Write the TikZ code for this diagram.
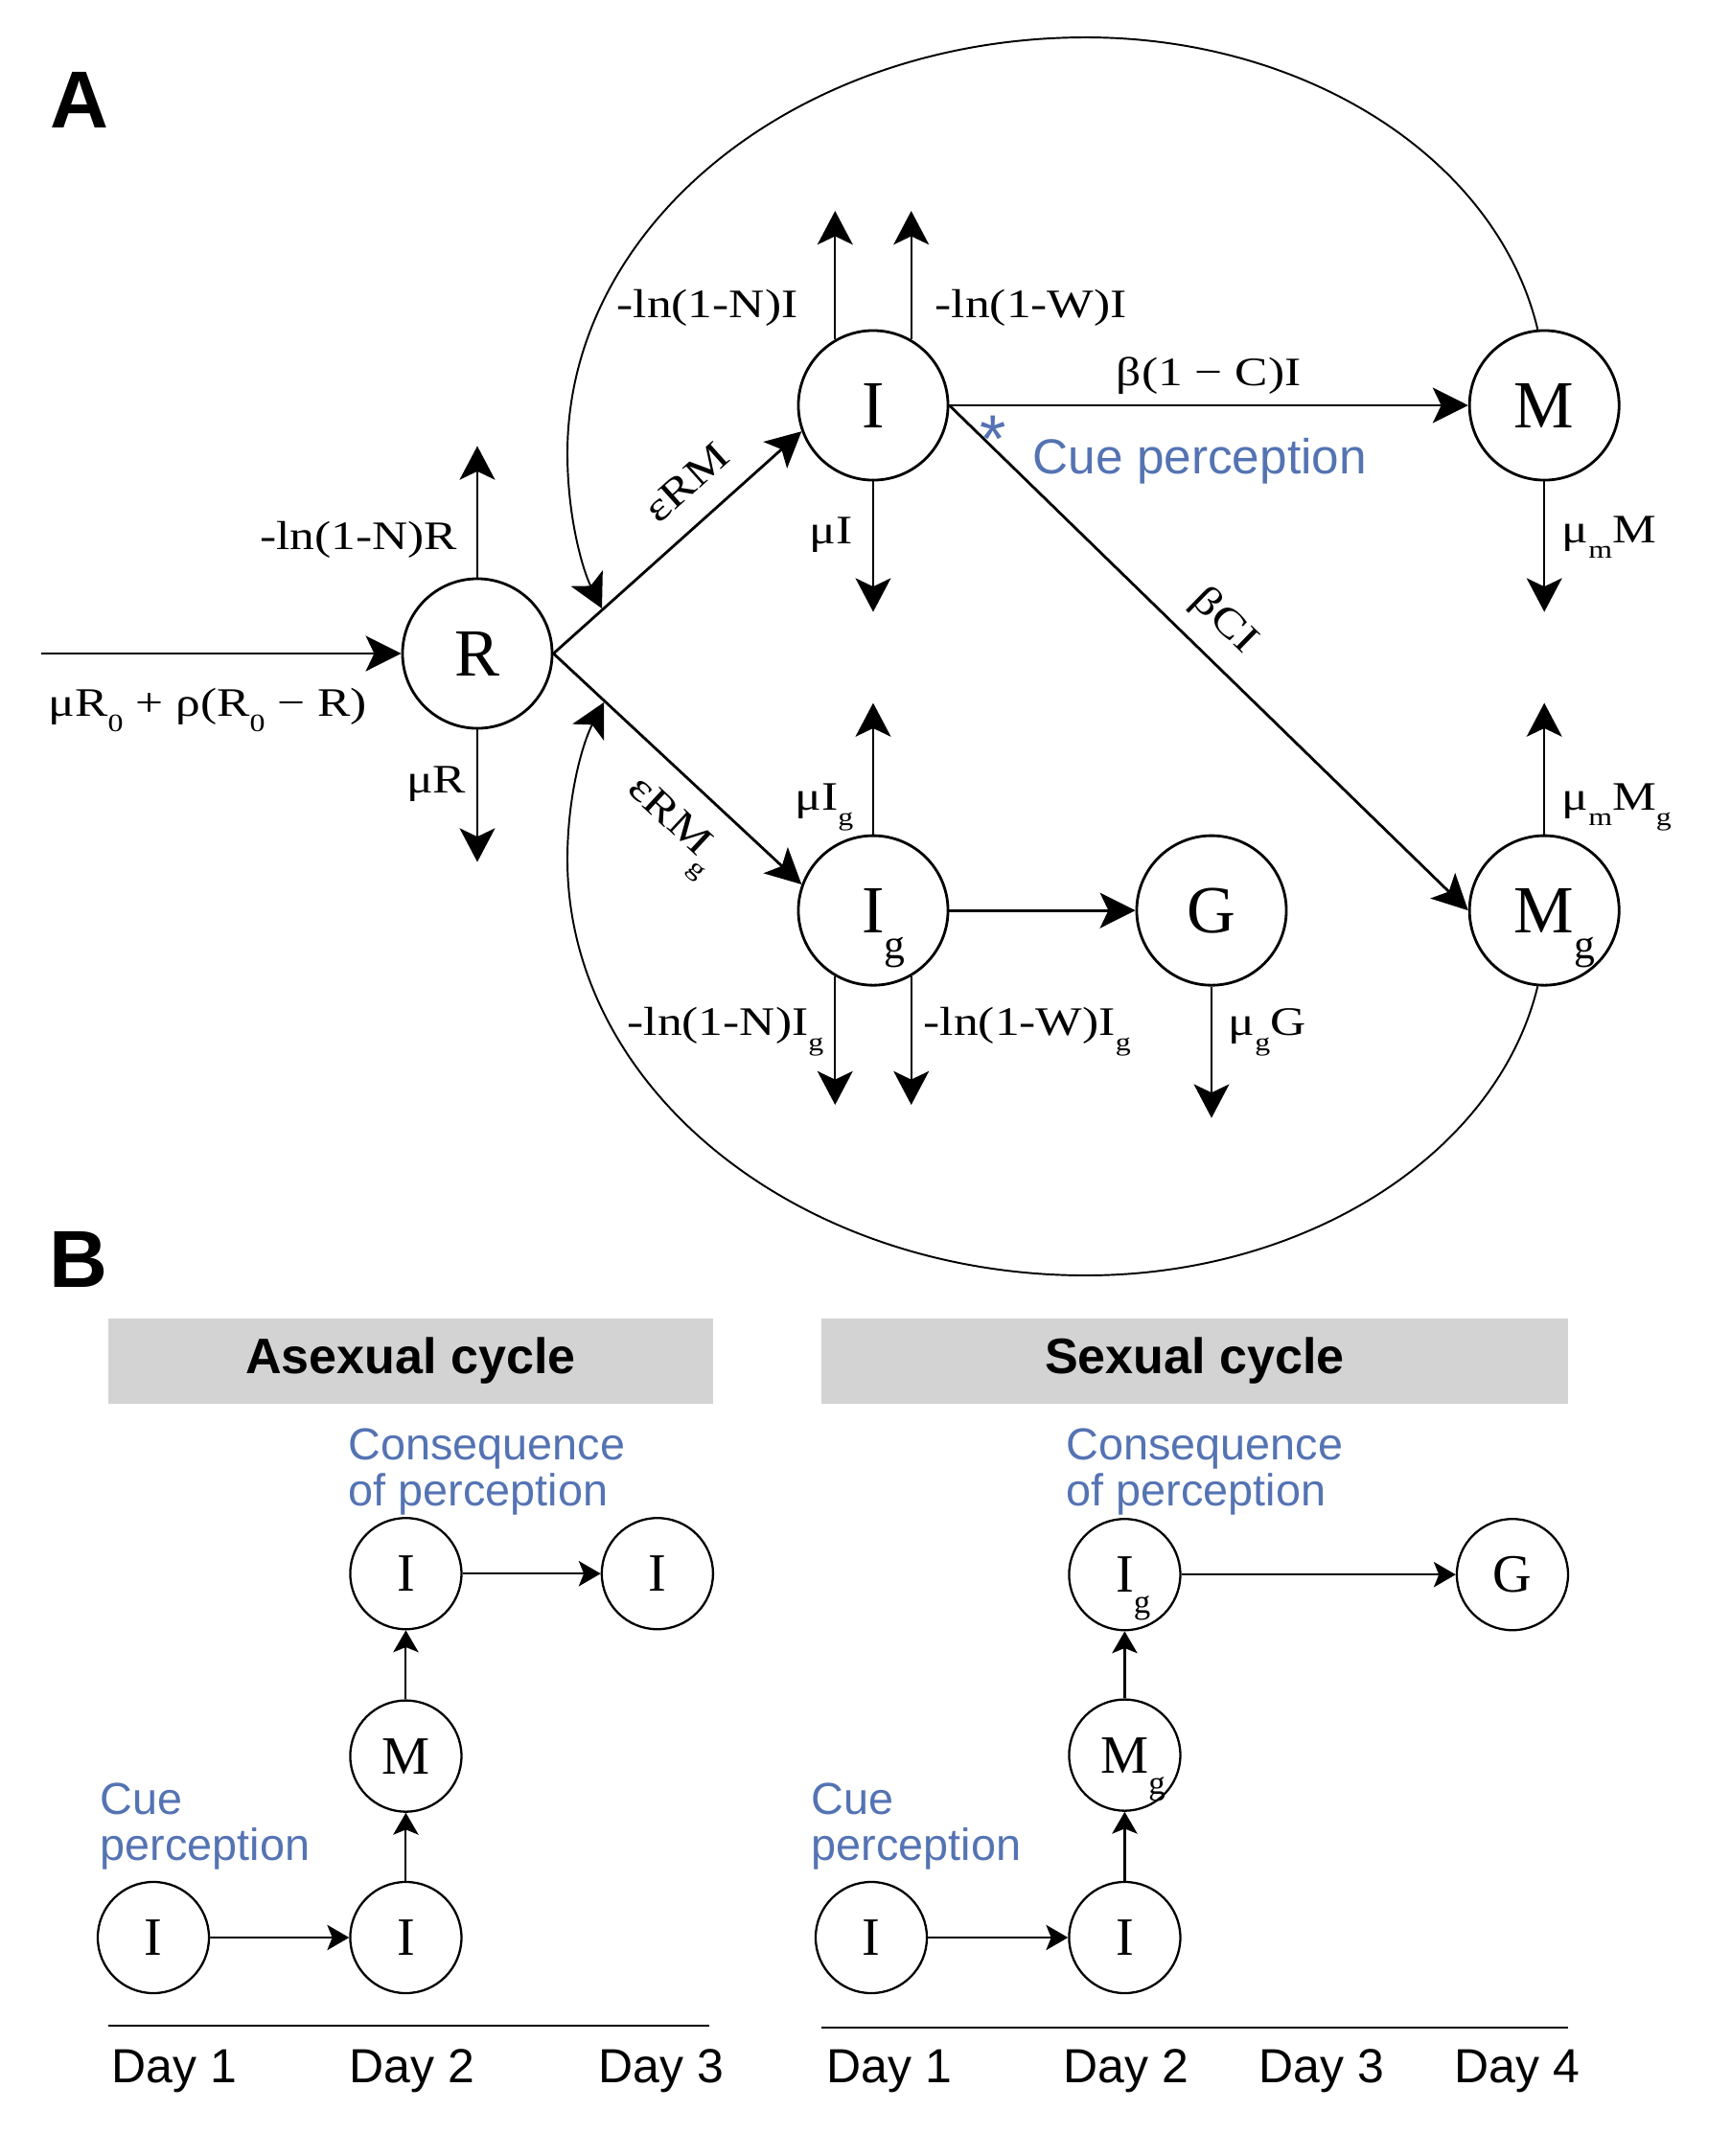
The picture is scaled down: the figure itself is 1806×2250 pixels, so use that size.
\documentclass[tikz,border=0pt]{standalone}
\usepackage{fontspec}
\setmainfont{Liberation Serif}
\setsansfont{Liberation Sans}
\newfontfamily\ratefont{Liberation Serif}[FakeStretch=1.22]
\usepackage{graphicx}
\definecolor{cueblue}{RGB}{84, 115, 179}
\definecolor{hdrgray}{RGB}{211, 211, 211}
\usepackage{tikz}
\usetikzlibrary{arrows.meta, positioning}
\newcommand{\lo}[1]{\smash{\raisebox{-0.85ex}{\scalebox{0.62}{#1}}}}
\tikzset{
  comp/.style={circle, draw, line width=0.8pt, minimum size=1.56cm, inner sep=0pt, font=\fontsize{20}{20}\selectfont},
  daycomp/.style={circle, draw, line width=0.65pt, minimum size=1.16cm, inner sep=0pt, font=\fontsize{16}{16}\selectfont},
  flow/.style={-{Stealth[length=10.5pt, width=10.5pt, inset=2.5pt]}, line width=0.8pt},
  flux/.style={-{Stealth[length=10pt, width=10.5pt, inset=2.5pt]}, line width=0.6pt},
  loopflow/.style={flux, line width=0.55pt},
  dayarrow/.style={-{Stealth[length=6.5pt, width=7.5pt, inset=1.5pt]}, line width=0.6pt},
  rate/.style={font=\ratefont\fontsize{12}{12}\selectfont, inner sep=0pt},
  cuelab/.style={font=\sffamily\fontsize{14.6}{14.6}\selectfont, text=cueblue, inner sep=0pt},
  cuenote/.style={font=\sffamily\fontsize{13.3}{13.8}\selectfont, text=cueblue, inner sep=0pt, align=left, anchor=south west},
  header/.style={fill=hdrgray, minimum height=0.89cm, font=\sffamily\bfseries\fontsize{14.8}{14.8}\selectfont},
  daylab/.style={font=\sffamily\fontsize{14.2}{14.2}\selectfont, inner sep=0pt, anchor=base},
  panel/.style={font=\sffamily\bfseries\fontsize{24}{24}\selectfont, inner sep=0pt, anchor=base west},
}
\begin{document}
\begin{tikzpicture}[x=0.01cm, y=0.01cm]
  \useasboundingbox (0,0) rectangle (1806,-2250);
  \node[panel] (pA) at (52,-133) {A};
  \node[panel] (pB) at (51,-1343) {B};
  % model
  \node[comp] (R) at (498,-682) {R};
  \node[comp] (I) at (911,-423) {I};
  \node[comp, right=5.41cm of I] (M) {M};
  \node[comp, below=3.68cm of I] (Ig) {I\rlap{\lo{g}}};
  \node[comp, right=1.94cm of Ig] (G) {G};
  \node[comp, below=3.68cm of M] (Mg) {M\rlap{\lo{g}}};
  \coordinate[left=3.75cm of R] (Rin);
  \coordinate[above=1.37cm of R] (Rup);
  \coordinate[below=1.38cm of R] (Rdn);
  \coordinate[above=1.34cm of I.120] (Iup1);
  \coordinate[above=1.34cm of I.60] (Iup2);
  \coordinate[below=1.36cm of I] (Idn);
  \coordinate[below=1.36cm of M] (Mdn);
  \coordinate[above=1.37cm of Ig] (Igup);
  \coordinate[below=1.34cm of Ig.240] (Igdn1);
  \coordinate[below=1.34cm of Ig.300] (Igdn2);
  \coordinate[below=1.37cm of G] (Gdn);
  \coordinate[above=1.37cm of Mg] (Mgup);
  \coordinate (fbI) at (628,-635);
  \coordinate (fbIg) at (630,-733);
  \foreach \a/\b in {R/Rup, R/Rdn, I.120/Iup1, I.60/Iup2, I/Idn, M/Mdn, Ig/Igup, Ig.240/Igdn1, Ig.300/Igdn2, G/Gdn, Mg/Mgup}
    \draw[flux] (\a) -- (\b);
  \draw[flow] (Rin) -- (R);
  \draw[flow] (R.east) -- (I.200) node[rate, pos=0.64, sloped, above=7pt] (lRM) {εRM};
  \draw[flow] (R.east) -- (Ig.160) node[rate, pos=0.6, sloped, below=7pt] (lRMg) {εRM\lo{g}};
  \draw[flow] (I) -- (M) node[rate, midway, above=3pt] (lIM) {β(1 − C)I};
  \draw[flow] (I.east) -- (Mg.west) node[rate, pos=0.48, sloped, above=5pt] (lIMg) {βCI};
  \draw[flow] (Ig) -- (G);
  \draw[loopflow] (M.95) .. controls (1562,-166) and (1363,-39) .. (1133,-39)
    .. controls (834,-39) and (592,-233) .. (592,-473)
    .. controls (592,-540) and (608,-595) .. (fbI);
  \draw[loopflow] (Mg.265) .. controls (1562,-1204) and (1363,-1331) .. (1133,-1331)
    .. controls (834,-1331) and (592,-1137) .. (592,-897)
    .. controls (592,-830) and (608,-775) .. (fbIg);
  \node[rate, anchor=base west] (lRin) at (50,-747) {μR\lo{0} + ρ(R\lo{0} − R)};
  \node[rate, anchor=base east] (lRup) at (478,-573) {-ln(1-N)R};
  \node[rate, anchor=base east] (lRdn) at (487,-827) {μR};
  \node[rate, anchor=base east] (lIup1) at (833,-331) {-ln(1-N)I};
  \node[rate, anchor=base west] (lIup2) at (975,-331) {-ln(1-W)I};
  \node[rate, anchor=base east] (lIdn) at (890,-567) {μI};
  \node[rate, anchor=base west] (lMdn) at (1629,-566) {μ\lo{m}M};
  \node[rate, anchor=base east] (lIgup) at (891,-845) {μI\lo{g}};
  \node[rate, anchor=base west] (lMgup) at (1629,-845) {μ\lo{m}M\lo{g}};
  \node[rate, anchor=base east] (lIgdn1) at (860,-1080) {-ln(1-N)I\lo{g}};
  \node[rate, anchor=base west] (lIgdn2) at (963,-1080) {-ln(1-W)I\lo{g}};
  \node[rate, anchor=base west] (lGdn) at (1281,-1080) {μ\lo{g}G};
  \node[cuelab, font=\sffamily\fontsize{20}{20}\selectfont, anchor=north] (star) at (1036,-433) {*};
  \node[cuelab, anchor=base west] (cue) at (1077,-494) {Cue perception};
  % asexual cycle
  \node[header, minimum width=6.31cm] (hdrA) at (428.5,-1420.5) {Asexual cycle};
  \node[daycomp] (a1) at (160,-2022) {I};
  \node[daycomp, right=1.45cm of a1] (a2) {I};
  \node[daycomp, above=0.71cm of a2] (a3) {M};
  \node[daycomp, above=0.72cm of a3] (a4) {I};
  \node[daycomp, right=1.44cm of a4] (a5) {I};
  \node[cuenote] (cueA) at (104,-1952) {Cue\\perception};
  \node[cuenote] (consA) at (363,-1582) {Consequence\\of perception};
  \draw[line width=0.65pt] (113,-2114) -- (740,-2114);
  \foreach \x/\d in {182/1, 430/2, 690/3}
    \node[daylab] (dA\d) at (\x,-2173) {Day \d};
  % sexual cycle
  \node[header, minimum width=7.79cm] (hdrS) at (1246.5,-1420.5) {Sexual cycle};
  \node[daycomp] (s1) at (909,-2022) {I};
  \node[daycomp, right=1.46cm of s1] (s2) {I};
  \node[daycomp, above=0.72cm of s2] (s3) {M\rlap{\lo{g}}};
  \node[daycomp, above=0.70cm of s3] (s4) {I\rlap{\lo{g}}};
  \node[daycomp, right=2.86cm of s4] (s5) {G};
  \node[cuenote] (cueS) at (846,-1952) {Cue\\perception};
  \node[cuenote] (consS) at (1112,-1582) {Consequence\\of perception};
  \draw[line width=0.65pt] (857,-2116) -- (1636,-2116);
  \foreach \x/\d in {928/1, 1175/2, 1379/3, 1583/4}
    \node[daylab] (dS\d) at (\x,-2173) {Day \d};
  \foreach \a/\b in {a1/a2, a2/a3, a3/a4, a4/a5, s1/s2, s2/s3, s3/s4, s4/s5}
    \draw[dayarrow] (\a) -- (\b);
\end{tikzpicture}
\end{document}
